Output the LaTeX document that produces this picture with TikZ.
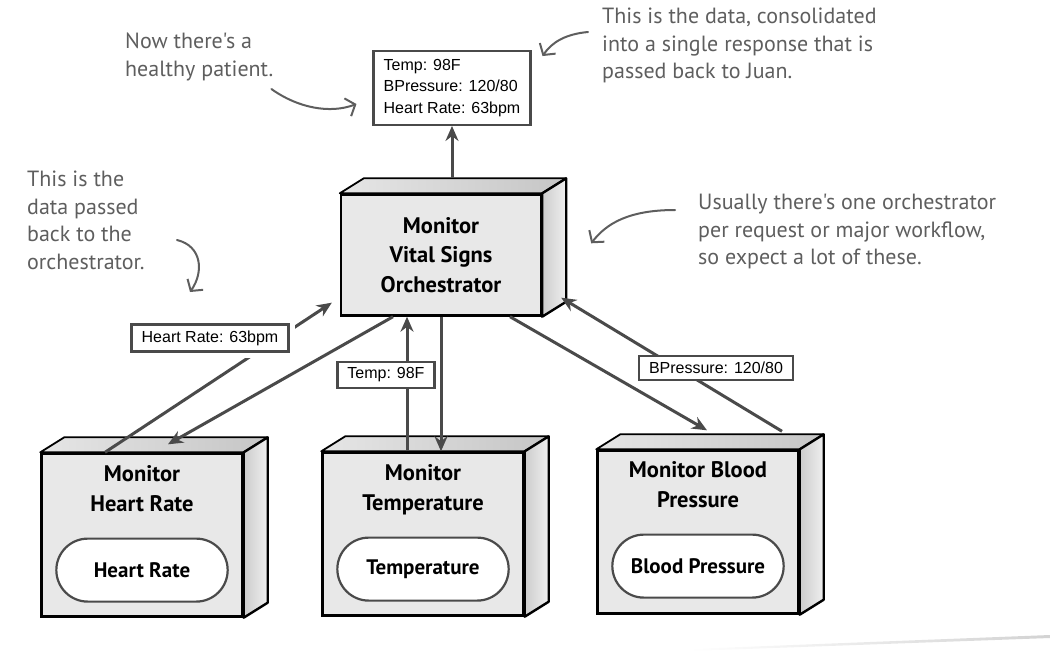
\documentclass[tikz,border=0pt]{standalone}
\usepackage{fontspec}
\setmainfont{Liberation Sans}
\newfontfamily\handfont{PT Sans}
\newfontfamily\titlefont{PT Sans}
\usepackage{tikz}
\usetikzlibrary{arrows.meta}
\usetikzlibrary{calc}
\usetikzlibrary{positioning}
\usetikzlibrary{shapes.misc}

\definecolor{linegray}{HTML}{4A4A4A}
\definecolor{notegray}{HTML}{5E5E5E}
\definecolor{facegray}{HTML}{E8E8E8}

\begin{document}
\begin{tikzpicture}
  [
    x = 1pt, y = -1pt,
    node distance = 12pt and 12pt,
    box/.style = {draw = black, line width = 2.4pt, fill = facegray,
                  minimum width = 201pt, minimum height = 163pt, inner sep = 0pt},
    title/.style = {font = \titlefont\bfseries\fontsize{22.5}{29.5}\selectfont,
                  align = center, inner sep = 0pt},
    pill/.style = {rounded rectangle, draw = linegray, line width = 2.2pt, fill = white,
                  minimum width = 178pt, minimum height = 63pt,
                  font = \titlefont\bfseries\fontsize{21}{25}\selectfont},
    tag/.style = {draw = linegray, line width = 2.4pt, fill = white,
                  inner xsep = 10pt, inner ysep = 6pt, font = \fontsize{16}{21.5}\selectfont},
    halo/.style = {preaction = {draw = white, line width = 14pt}},
    note/.style = {font = \handfont\fontsize{22}{27.5}\selectfont, text = notegray,
                  align = left, anchor = north west, inner sep = 0pt},
    topface/.style = {draw = black, line width = 1.8pt, line join = round,
                  left color = gray!20, right color = gray!45},
    sideface/.style = {draw = black, line width = 2.4pt, line join = round,
                  left color = gray!40, right color = gray!12},
    arrow/.style = {draw = linegray, line width = 3pt, -{Stealth[length = 15pt, width = 13pt]}},
    scrawl/.style = {draw = notegray, line width = 2pt, line cap = round,
                  -{Straight Barb[length = 8pt, width = 19pt]}},
  ]

  \useasboundingbox (0,0) rectangle (1050,651);

  \node[box, title, minimum width = 200pt, minimum height = 121pt] (orch) at (441,255)
    {Monitor\\Vital Signs\\Orchestrator};

  \node[box] (hrbox) at (142,535) {};
  \node[title][below = 13pt of hrbox.north] (hrtitle) {Monitor\\Heart Rate};
  \node[pill][above = 15pt of hrbox.south] (hrpill) {Heart Rate};

  \node[box] (tempbox) at (423,534) {};
  \node[title][below = 13pt of tempbox.north] (temptitle) {Monitor\\Temperature};
  \node[pill][above = 15pt of tempbox.south] (temppill) {Temperature};

  \node[box] (bpbox) at (698,532) {};
  \node[title][below = 12pt of bpbox.north] (bptitle) {Monitor Blood\\Pressure};
  \node[pill][above = 16pt of bpbox.south] (bppill) {Blood Pressure};

  \foreach \b in {orch, hrbox, tempbox, bpbox} {
    \draw[topface] (\b.north west) -- ++(24,-15) -- ($(\b.north east)+(24,-15)$)
      -- (\b.north east) -- cycle;
    \draw[sideface] (\b.north east) -- ++(24,-15) -- ($(\b.south east)+(24,-15)$)
      -- (\b.south east) -- cycle;
  }

  \node[tag, align = left, inner ysep = 8pt] (result) at (452,88)
    {Temp: 98F\\BPressure: 120/80\\Heart Rate: 63bpm};
  \coordinate (orchtop) at ($(orch.north)+(11,-15)$);
  \draw[arrow] (orchtop) -- (orchtop |- result.south);

  \coordinate (hrout) at ($(hrbox.north)+(-37,0)$);
  \coordinate (hrin) at ($(orch.south west)+(-8,-14)$);
  \draw[arrow] (hrout) -- (hrin);
  \coordinate (hrdown) at ($(orch.south)+(-48,0)$);
  \draw[arrow] (hrdown) -- ($(hrbox.north)+(26,-8)$);
  \node[tag, halo] (hrdata) at (210,338) {Heart Rate: 63bpm};

  \coordinate (tempout) at ($(tempbox.north)+(-16,0)$);
  \draw[arrow] (tempout) -- (tempout |- orch.south);
  \draw[arrow] (orch.south) -- (orch.south |- tempbox.north);
  \node[tag] (tempdata) at (386,375) {Temp: 98F};

  \coordinate (bpdown) at ($(orch.south)+(69,0)$);
  \draw[arrow] (bpdown) -- ($(bpbox.north)+(9,-19)$);
  \coordinate (bpout) at ($(bpbox.north)+(84,-18)$);
  \draw[arrow] (bpout) -- ($(orch.south east)+(19,-19)$);
  \node[tag] (bpdata) at (716,368) {BPressure: 120/80};

  \node[note] (patientnote) at (125,33) {Now there's a\\healthy patient.};
  \coordinate (patienttip) at ($(result.west)+(-16,16)$);
  \draw[scrawl] ($(patientnote.south east)+(-2,8)$) .. controls (298,108) and (330,114) .. (patienttip);

  \node[note] (datanote) at (602,8) {This is the data, consolidated\\into a single response that is\\passed back to Juan.};
  \coordinate (datatip) at ($(result.north east)+(11,6)$);
  \draw[scrawl] ($(datanote.north west)+(-14,24)$) .. controls (566,34) and (552,42) .. (datatip);

  \node[note] (backnote) at (27,171)
    {This is the\\data passed\\back to the\\orchestrator.};
  \coordinate (backtip) at (190,292);
  \draw[scrawl] (177,240) .. controls (202,246) and (204,272) .. (backtip);

  \node[note] (usualnote) at (698,194) {Usually there's one orchestrator\\per request or major workflow,\\so expect a lot of these.};
  \coordinate (usualtip) at ($(orch.north east)+(49,50)$);
  \draw[scrawl] ($(usualnote.north west)+(-23,16)$) .. controls (628,210) and (606,224) .. (usualtip);

  \shade[left color = white, right color = gray!35]
    (690,649) -- (1050,635) -- (1050,638) -- (690,651) -- cycle;

\end{tikzpicture}
\end{document}
